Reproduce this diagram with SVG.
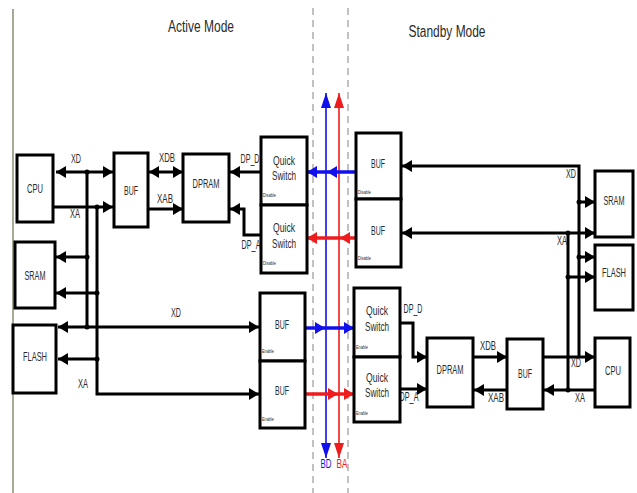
<svg xmlns="http://www.w3.org/2000/svg" width="637" height="493" viewBox="0 0 637 493">
<style>
.box{fill:#fff;stroke:#000;stroke-width:3}
.t{font-family:"Liberation Sans",Arial,sans-serif;font-size:12px;fill:#2a2a2a;text-anchor:middle}
.title{font-family:"Liberation Sans",Arial,sans-serif;font-size:16px;fill:#2a2a2a;text-anchor:middle}
.s{font-family:"Liberation Sans",Arial,sans-serif;font-size:6px;fill:#2a2a2a}
.w{stroke:#000;stroke-width:3;fill:none}
.b{stroke:#1010ee;stroke-width:3.5;fill:none}
.r{stroke:#ee1c1c;stroke-width:3.5;fill:none}
.bv{stroke:#1010ee;stroke-width:1.6;fill:none}
.rv{stroke:#ee1c1c;stroke-width:1.6;fill:none}
.dash{stroke:#999;stroke-width:1.2;stroke-dasharray:7 5;fill:none}
</style>
<defs>
<marker id="ak" viewBox="0 0 10 12" refX="10" refY="6" markerWidth="10" markerHeight="12" markerUnits="userSpaceOnUse" orient="auto-start-reverse"><path d="M0,0L10,6L0,12z" fill="#000"/></marker>
<marker id="ab" viewBox="0 0 10 12" refX="10" refY="6" markerWidth="10" markerHeight="12" markerUnits="userSpaceOnUse" orient="auto-start-reverse"><path d="M0,0L10,6L0,12z" fill="#1010ee"/></marker>
<marker id="ar" viewBox="0 0 10 12" refX="10" refY="6" markerWidth="10" markerHeight="12" markerUnits="userSpaceOnUse" orient="auto-start-reverse"><path d="M0,0L10,6L0,12z" fill="#ee1c1c"/></marker>
<marker id="abv" viewBox="0 0 15 10" refX="15" refY="5" markerWidth="15" markerHeight="10" markerUnits="userSpaceOnUse" orient="auto-start-reverse"><path d="M0,0L15,5L0,10z" fill="#1010ee"/></marker>
<marker id="arv" viewBox="0 0 15 10" refX="15" refY="5" markerWidth="15" markerHeight="10" markerUnits="userSpaceOnUse" orient="auto-start-reverse"><path d="M0,0L15,5L0,10z" fill="#ee1c1c"/></marker>
</defs>
<rect width="637" height="493" fill="#fff"/>
<line x1="13" y1="9" x2="13" y2="493" stroke="#8a8a78" stroke-width="1.5"/>
<line class="dash" x1="313" y1="8" x2="313" y2="493"/>
<line class="dash" x1="348" y1="8" x2="348" y2="493"/>
<text class="title" x="201" y="32" textLength="66" lengthAdjust="spacingAndGlyphs">Active Mode</text>
<text class="title" x="447" y="37" textLength="77" lengthAdjust="spacingAndGlyphs">Standby Mode</text>

<g id="connectors">
<line class="w" x1="56" y1="172" x2="113" y2="172" marker-start="url(#ak)" marker-end="url(#ak)"/>
<line class="w" x1="53" y1="207" x2="113" y2="207" marker-end="url(#ak)"/>
<line class="w" x1="149" y1="172" x2="183" y2="172" marker-start="url(#ak)" marker-end="url(#ak)"/>
<line class="w" x1="148" y1="209" x2="183" y2="209" marker-end="url(#ak)"/>
<line class="w" x1="261" y1="172" x2="230" y2="172" marker-end="url(#ak)"/>
<polyline class="w" points="261,235 244,235 244,209 230,209" marker-end="url(#ak)"/>
<line class="w" x1="87" y1="172" x2="87" y2="327"/>
<polyline class="w" points="97,207 97,394 259,394" marker-end="url(#ak)"/>
<line class="w" x1="87" y1="257" x2="56" y2="257" marker-end="url(#ak)"/>
<line class="w" x1="97" y1="293" x2="56" y2="293" marker-end="url(#ak)"/>
<line class="w" x1="58" y1="327" x2="259" y2="327" marker-start="url(#ak)" marker-end="url(#ak)"/>
<line class="w" x1="97" y1="359" x2="58" y2="359" marker-end="url(#ak)"/>
<g fill="#000"><circle cx="87" cy="172" r="2.5"/><circle cx="97" cy="207" r="2.5"/><circle cx="87" cy="257" r="2.5"/><circle cx="97" cy="293" r="2.5"/><circle cx="87" cy="327" r="2.5"/><circle cx="97" cy="359" r="2.5"/></g>

<polyline class="w" points="579,357 579,166 402,166" marker-end="url(#ak)"/>
<line class="w" x1="543" y1="357" x2="595" y2="357" marker-end="url(#ak)"/>
<line class="w" x1="402" y1="233" x2="595" y2="233" marker-start="url(#ak)" marker-end="url(#ak)"/>
<line class="w" x1="568" y1="231" x2="568" y2="390"/>
<line class="w" x1="595" y1="390" x2="544" y2="390" marker-end="url(#ak)"/>
<line class="w" x1="579" y1="202" x2="595" y2="202" marker-end="url(#ak)"/>
<line class="w" x1="579" y1="257" x2="595" y2="257" marker-end="url(#ak)"/>
<line class="w" x1="568" y1="277" x2="595" y2="277" marker-end="url(#ak)"/>
<line class="w" x1="473" y1="357" x2="507" y2="357" marker-end="url(#ak)"/>
<line class="w" x1="507" y1="390" x2="474" y2="390" marker-end="url(#ak)"/>
<polyline class="w" points="400,323 413,323 413,357 427,357" marker-end="url(#ak)"/>
<line class="w" x1="400" y1="389" x2="427" y2="389" marker-end="url(#ak)"/>
<g fill="#000"><circle cx="568" cy="233" r="2.5"/><circle cx="568" cy="390" r="2.5"/><circle cx="579" cy="202" r="2.5"/><circle cx="579" cy="257" r="2.5"/><circle cx="568" cy="277" r="2.5"/></g>

<line class="bv" x1="326" y1="458" x2="326" y2="93" marker-start="url(#abv)" marker-end="url(#abv)"/>
<line class="rv" x1="339" y1="458" x2="339" y2="93" marker-start="url(#arv)" marker-end="url(#arv)"/>
<line class="b" x1="356" y1="172" x2="327" y2="172" marker-end="url(#ab)"/>
<line class="b" x1="327" y1="172" x2="307" y2="172" marker-end="url(#ab)"/>
<line class="r" x1="356" y1="238" x2="340" y2="238" marker-end="url(#ar)"/>
<line class="r" x1="340" y1="238" x2="307" y2="238" marker-end="url(#ar)"/>
<line class="b" x1="305" y1="328" x2="325" y2="328" marker-end="url(#ab)"/>
<line class="b" x1="325" y1="328" x2="354" y2="328" marker-end="url(#ab)"/>
<line class="r" x1="305" y1="394" x2="338" y2="394" marker-end="url(#ar)"/>
<line class="r" x1="338" y1="394" x2="354" y2="394" marker-end="url(#ar)"/>

<g class="t">
<text x="76" y="163" textLength="10" lengthAdjust="spacingAndGlyphs">XD</text>
<text x="75" y="218" textLength="10" lengthAdjust="spacingAndGlyphs">XA</text>
<text x="167" y="162" textLength="16" lengthAdjust="spacingAndGlyphs">XDB</text>
<text x="165" y="203" textLength="16" lengthAdjust="spacingAndGlyphs">XAB</text>
<text x="250" y="163" textLength="19" lengthAdjust="spacingAndGlyphs">DP_D</text>
<text x="251" y="249" textLength="19" lengthAdjust="spacingAndGlyphs">DP_A</text>
<text x="176" y="317" textLength="10" lengthAdjust="spacingAndGlyphs">XD</text>
<text x="83" y="388" textLength="10" lengthAdjust="spacingAndGlyphs">XA</text>
<text x="571" y="178" textLength="10" lengthAdjust="spacingAndGlyphs">XD</text>
<text x="562" y="245" textLength="10" lengthAdjust="spacingAndGlyphs">XA</text>
<text x="413" y="313" textLength="19" lengthAdjust="spacingAndGlyphs">DP_D</text>
<text x="409" y="401" textLength="19" lengthAdjust="spacingAndGlyphs">DP_A</text>
<text x="488" y="350" textLength="16" lengthAdjust="spacingAndGlyphs">XDB</text>
<text x="496" y="402" textLength="16" lengthAdjust="spacingAndGlyphs">XAB</text>
<text x="576" y="367" textLength="10" lengthAdjust="spacingAndGlyphs">XD</text>
<text x="580" y="402" textLength="10" lengthAdjust="spacingAndGlyphs">XA</text>
</g>
<text class="t" x="326" y="468" style="fill:#1010ee" textLength="11" lengthAdjust="spacingAndGlyphs">BD</text>
<text class="t" x="342" y="468" style="fill:#ee1c1c" textLength="11" lengthAdjust="spacingAndGlyphs">BA</text>
</g>

<g id="cpu-a"><rect class="box" x="17" y="155" width="36" height="67"/><text class="t" x="35" y="193" textLength="16" lengthAdjust="spacingAndGlyphs">CPU</text></g>
<g id="buf-a"><rect class="box" x="114" y="153" width="34" height="74"/><text class="t" x="131" y="195" textLength="14" lengthAdjust="spacingAndGlyphs">BUF</text></g>
<g id="dpram-a"><rect class="box" x="183" y="154" width="46" height="68"/><text class="t" x="206" y="188" textLength="27" lengthAdjust="spacingAndGlyphs">DPRAM</text></g>
<g id="qs1-a"><rect class="box" x="261" y="137" width="46" height="68"/><text class="t" x="284" y="165" textLength="22" lengthAdjust="spacingAndGlyphs">Quick</text><text class="t" x="284" y="180" textLength="24" lengthAdjust="spacingAndGlyphs">Switch</text><text class="s" x="263" y="197" textLength="13" lengthAdjust="spacingAndGlyphs">Disable</text></g>
<g id="qs2-a"><rect class="box" x="261" y="205" width="46" height="68"/><text class="t" x="284" y="232" textLength="22" lengthAdjust="spacingAndGlyphs">Quick</text><text class="t" x="284" y="248" textLength="24" lengthAdjust="spacingAndGlyphs">Switch</text><text class="s" x="263" y="265" textLength="13" lengthAdjust="spacingAndGlyphs">Disable</text></g>
<g id="sram-a"><rect class="box" x="15" y="242" width="40" height="66"/><text class="t" x="35" y="280" textLength="21" lengthAdjust="spacingAndGlyphs">SRAM</text></g>
<g id="flash-a"><rect class="box" x="13" y="325" width="43" height="68"/><text class="t" x="35" y="361" textLength="24" lengthAdjust="spacingAndGlyphs">FLASH</text></g>
<g id="buf1-a"><rect class="box" x="260" y="293" width="45" height="68"/><text class="t" x="282" y="329" textLength="14" lengthAdjust="spacingAndGlyphs">BUF</text><text class="s" x="262" y="353" textLength="12" lengthAdjust="spacingAndGlyphs">Enable</text></g>
<g id="buf2-a"><rect class="box" x="260" y="361" width="45" height="67"/><text class="t" x="282" y="395" textLength="14" lengthAdjust="spacingAndGlyphs">BUF</text><text class="s" x="262" y="421" textLength="12" lengthAdjust="spacingAndGlyphs">Enable</text></g>

<g id="buf1-s"><rect class="box" x="356" y="133" width="45" height="66"/><text class="t" x="378" y="168" textLength="14" lengthAdjust="spacingAndGlyphs">BUF</text><text class="s" x="358" y="194" textLength="13" lengthAdjust="spacingAndGlyphs">Disable</text></g>
<g id="buf2-s"><rect class="box" x="356" y="199" width="45" height="68"/><text class="t" x="378" y="235" textLength="14" lengthAdjust="spacingAndGlyphs">BUF</text><text class="s" x="358" y="260" textLength="13" lengthAdjust="spacingAndGlyphs">Disable</text></g>
<g id="qs1-s"><rect class="box" x="354" y="288" width="46" height="69"/><text class="t" x="377" y="315" textLength="22" lengthAdjust="spacingAndGlyphs">Quick</text><text class="t" x="377" y="331" textLength="24" lengthAdjust="spacingAndGlyphs">Switch</text><text class="s" x="356" y="349" textLength="12" lengthAdjust="spacingAndGlyphs">Enable</text></g>
<g id="qs2-s"><rect class="box" x="354" y="357" width="46" height="65"/><text class="t" x="377" y="382" textLength="22" lengthAdjust="spacingAndGlyphs">Quick</text><text class="t" x="377" y="397" textLength="24" lengthAdjust="spacingAndGlyphs">Switch</text><text class="s" x="356" y="415" textLength="12" lengthAdjust="spacingAndGlyphs">Enable</text></g>
<g id="dpram-s"><rect class="box" x="427" y="338" width="46" height="69"/><text class="t" x="450" y="374" textLength="27" lengthAdjust="spacingAndGlyphs">DPRAM</text></g>
<g id="buf-s"><rect class="box" x="507" y="339" width="36" height="70"/><text class="t" x="525" y="378" textLength="14" lengthAdjust="spacingAndGlyphs">BUF</text></g>
<g id="cpu-s"><rect class="box" x="595" y="338" width="35" height="69"/><text class="t" x="613" y="375" textLength="16" lengthAdjust="spacingAndGlyphs">CPU</text></g>
<g id="sram-s"><rect class="box" x="595" y="171" width="38" height="66"/><text class="t" x="614" y="205" textLength="21" lengthAdjust="spacingAndGlyphs">SRAM</text></g>
<g id="flash-s"><rect class="box" x="595" y="245" width="38" height="65"/><text class="t" x="614" y="277" textLength="24" lengthAdjust="spacingAndGlyphs">FLASH</text></g>
</svg>
